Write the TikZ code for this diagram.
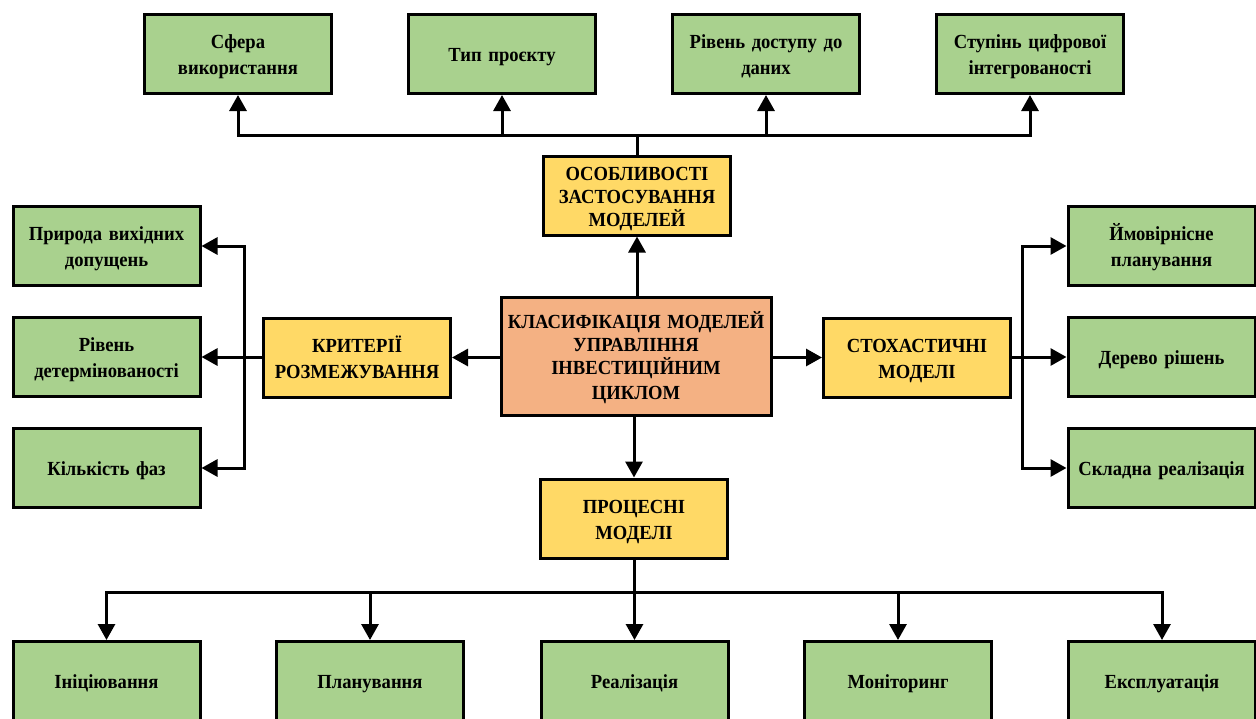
\documentclass[tikz,border=0pt]{standalone}
\usepackage{fontspec}
\setmainfont{Liberation Serif}[FakeStretch=0.93]
\usetikzlibrary{arrows.meta}
\definecolor{boxgreen}{HTML}{A9D18E}
\definecolor{boxyellow}{HTML}{FFD966}
\definecolor{boxorange}{HTML}{F4B183}
% invisible rule that gives every line the same height and depth
\newcommand\labelstrut{\rule[-5pt]{0pt}{25pt}}
\begin{document}
\begin{tikzpicture}[x=1pt,y=-1pt,
  base/.style={draw=black, line width=3pt, align=center, font=\fontsize{20}{23}\selectfont\bfseries, inner sep=2pt,
    execute at begin node=\labelstrut, execute at end node=\labelstrut},
  leaf/.style={base, fill=boxgreen, minimum width=187pt, minimum height=79pt, text width=180pt},
  group/.style={base, fill=boxyellow, minimum width=187pt, minimum height=79pt, text width=182pt},
  root/.style={base, fill=boxorange, minimum width=269pt, minimum height=118pt, text width=266pt},
  arr/.style={line width=3pt, -{Triangle[length=16pt,width=17pt]}}]
\useasboundingbox (0,0) rectangle (1256,718);
\clip (0,0) rectangle (1256,718);

% centre
\node[root] (root) at (636,356.5) {КЛАСИФІКАЦІЯ МОДЕЛЕЙ\\УПРАВЛІННЯ\\ІНВЕСТИЦІЙНИМ\\ЦИКЛОМ};

% four groups
\node[group] (feat) at (637,195.5) {ОСОБЛИВОСТІ\\ЗАСТОСУВАННЯ\\МОДЕЛЕЙ};
\node[group] (crit) at (357,357.5) {КРИТЕРІЇ\\РОЗМЕЖУВАННЯ};
\node[group] (stoch) at (917,357.5) {СТОХАСТИЧНІ\\МОДЕЛІ};
\node[group] (proc) at (634,518.5) {ПРОЦЕСНІ\\МОДЕЛІ};

% top leaves
\node[leaf] (sphere) at (238,54) {Сфера\\використання};
\node[leaf] (ptype) at (502,54) {Тип проєкту};
\node[leaf] (access) at (766,54) {Рівень доступу до\\даних};
\node[leaf] (digital) at (1030,54) {Ступінь цифрової\\інтегрованості};

% left leaves
\node[leaf] (nature) at (106.5,246) {Природа вихідних\\допущень};
\node[leaf] (determ) at (106.5,357) {Рівень\\детермінованості};
\node[leaf] (phases) at (106.5,468) {Кількість фаз};

% right leaves
\node[leaf] (prob) at (1161.5,246) {Ймовірнісне\\планування};
\node[leaf] (tree) at (1161.5,357) {Дерево рішень};
\node[leaf] (complex) at (1161.5,468) {Складна реалізація};

% bottom leaves
\node[leaf] (init) at (106.5,681) {Ініціювання};
\node[leaf] (plan) at (370,681) {Планування};
\node[leaf] (impl) at (634.5,681) {Реалізація};
\node[leaf] (monit) at (898,681) {Моніторинг};
\node[leaf] (oper) at (1162,681) {Експлуатація};

% bus coordinates
\coordinate (topbus) at (636,135);
\coordinate (leftbus) at (244,357.5);
\coordinate (rightbus) at (1022,357.5);
\coordinate (botbus) at (634,592);

% root to groups
\draw[arr] (root.north -| feat.south) -- (feat.south);
\draw[arr] (root.west |- crit.east) -- (crit.east);
\draw[arr] (root.east |- stoch.west) -- (stoch.west);
\draw[arr] (root.south -| proc.north) -- (proc.north);

% top branch
\foreach \t in {sphere,ptype,access,digital}
  \draw[arr] (feat.north) -- (feat.north |- topbus) -| (\t.south);

% left branch
\foreach \t in {nature,determ,phases}
  \draw[arr] (crit.west) -- (leftbus) |- (\t.east);

% right branch
\foreach \t in {prob,tree,complex}
  \draw[arr] (stoch.east) -- (rightbus) |- (\t.west);

% bottom branch
\foreach \t in {init,plan,impl,monit,oper}
  \draw[arr] (proc.south) -- (proc.south |- botbus) -| (\t.north);
\end{tikzpicture}
\end{document}
